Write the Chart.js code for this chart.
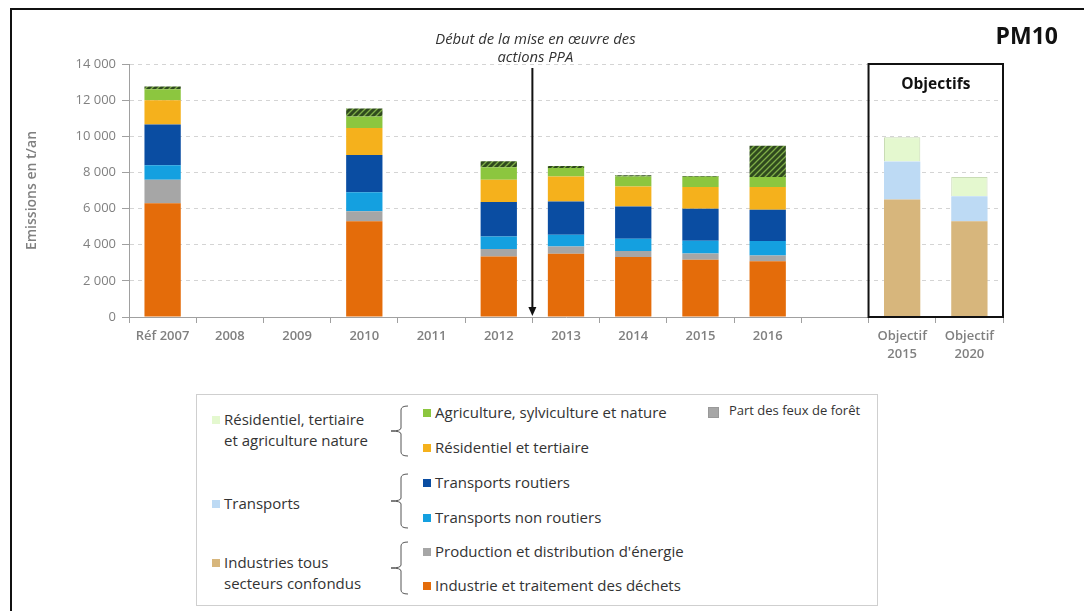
<!DOCTYPE html>
<html>
<head>
<meta charset="utf-8">
<script src="https://cdn.jsdelivr.net/npm/chart.js@4.4.0/dist/chart.umd.min.js"></script>
<style>
  body { margin: 0; background: #fff; font-family: "Open Sans", sans-serif; }
  #page { position: relative; width: 1084px; height: 611px; overflow: hidden; }
  #frame { position: absolute; left: 10px; top: 8px; width: 1100px; height: 700px;
           border-left: 2px solid #111; border-top: 2px solid #111; }
  #wrap { position: absolute; left: 0; top: 0; width: 1084px; height: 380px; }
  #legend { position: absolute; left: 196px; top: 394px; width: 680px; height: 210px;
            border: 1px solid #cfcfcf; font-size: 15px; color: #333; }
  .it { position: absolute; white-space: nowrap; line-height: 21px; }
  .sq { position: absolute; width: 8px; height: 8px; }
  .br { position: absolute; }
</style>
</head>
<body>
<div id="page">
  <div id="frame"></div>
  <div id="wrap"><canvas id="chart" width="1084" height="380"></canvas></div>
  <div id="legend"></div>
</div>
<script>
// categories and values (t/an)
var years = ['Réf 2007', '2008', '2009', '2010', '2011', '2012', '2013', '2014', '2015', '2016', '',
             ['Objectif', '2015'], ['Objectif', '2020']];

var industrie    = [6300, null, null, 5300, null, 3350, 3500, 3320, 3170, 3080, null, null, null];
var energie      = [1300, null, null, 550,  null, 410,  400,  330,  350,  330,  null, null, null];
var nonRoutiers  = [800,  null, null, 1050, null, 700,  650,  680,  700,  800,  null, null, null];
var routiers     = [2250, null, null, 2070, null, 1900, 1840, 1790, 1770, 1730, null, null, null];
var residentiel  = [1350, null, null, 1490, null, 1230, 1380, 1100, 1200, 1260, null, null, null];
var agriculture  = [600,  null, null, 640,  null, 700,  480,  550,  570,  550,  null, null, null];
var feux         = [150,  null, null, 440,  null, 330,  100,  80,   40,   1730, null, null, null];

var objIndustries  = [null, null, null, null, null, null, null, null, null, null, null, 6500, 5300];
var objTransports  = [null, null, null, null, null, null, null, null, null, null, null, 2100, 1380];
var objResidentiel = [null, null, null, null, null, null, null, null, null, null, null, 1350, 1070];

var yTicks = [0, 2000, 4000, 6000, 8000, 10000, 12000, 14000];

// hatch for forest fires
function hatch() {
    var c = document.createElement('canvas');
    c.width = 6; c.height = 6;
    var g = c.getContext('2d');
    g.fillStyle = '#2f4a1e';
    g.fillRect(0, 0, 6, 6);
    g.strokeStyle = '#7fae48';
    g.lineWidth = 1.3;
    g.beginPath();
    g.moveTo(0, 6); g.lineTo(6, 0);
    g.moveTo(-3, 3); g.lineTo(3, -3);
    g.moveTo(3, 9); g.lineTo(9, 3);
    g.stroke();
    return document.getElementById('chart').getContext('2d').createPattern(c, 'repeat');
}

var colors = {
    industrie: '#e46c0a', energie: '#a6a6a6', nonRoutiers: '#14a0e0', routiers: '#0a4da2',
    residentiel: '#f5b11c', agriculture: '#8cc63f', tan: '#d7b67c', paleBlue: '#bddaf4',
    paleGreen: '#e4f8cf', feuxLegend: '#a6a6a6'
};

function ds(label, data, color, border) {
    return { label: label, data: data, backgroundColor: color, stack: 's',
             borderColor: border || color, borderWidth: border ? 1 : 0,
             barPercentage: 0.54, categoryPercentage: 1 };
}

var datasets = [
    ds('Industrie et traitement des déchets', industrie, colors.industrie),
    ds("Production et distribution d'énergie", energie, colors.energie),
    ds('Transports non routiers', nonRoutiers, colors.nonRoutiers),
    ds('Transports routiers', routiers, colors.routiers),
    ds('Résidentiel et tertiaire', residentiel, colors.residentiel),
    ds('Agriculture, sylviculture et nature', agriculture, colors.agriculture),
    ds('Part des feux de forêt', feux, hatch()),
    ds('Industries tous secteurs confondus', objIndustries, colors.tan),
    ds('Transports', objTransports, colors.paleBlue),
    ds('Résidentiel, tertiaire et agriculture nature', objResidentiel, colors.paleGreen, '#c9dcb5')
];

var extras = {
    id: 'extras',
    afterDraw: function (chart) {
        var ctx = chart.ctx, x = chart.scales.x, y = chart.scales.y, area = chart.chartArea;
        ctx.save();
        // Objectifs box
        var bx = (x.getPixelForValue(10) + x.getPixelForValue(11)) / 2;
        var top = y.getPixelForValue(14000);
        ctx.strokeStyle = '#111';
        ctx.lineWidth = 2;
        ctx.strokeRect(bx, top, area.right - bx, area.bottom - top);
        ctx.fillStyle = '#111';
        ctx.font = 'bold 15.5px "Open Sans"';
        ctx.textAlign = 'center';
        ctx.textBaseline = 'middle';
        ctx.fillText('Objectifs', (bx + area.right) / 2, top + 21);

        // arrow
        var ax = (x.getPixelForValue(5) + x.getPixelForValue(6)) / 2;
        ctx.lineWidth = 2;
        ctx.beginPath();
        ctx.moveTo(ax, 68);
        ctx.lineTo(ax, area.bottom - 6);
        ctx.stroke();
        ctx.beginPath();
        ctx.moveTo(ax - 4, area.bottom - 10);
        ctx.lineTo(ax, area.bottom - 1);
        ctx.lineTo(ax + 4, area.bottom - 10);
        ctx.closePath();
        ctx.fill();

        ctx.fillStyle = '#333';
        ctx.font = 'italic 14.8px "Open Sans"';
        ctx.fillText('Début de la mise en œuvre des', ax + 3, 40);
        ctx.fillText('actions PPA', ax + 3, 58);

        ctx.fillStyle = '#111';
        ctx.font = 'bold 23px "Open Sans"';
        ctx.textAlign = 'right';
        ctx.fillText('PM10', 1058, 37);
        ctx.restore();
    }
};

new Chart(document.getElementById('chart').getContext('2d'), {
    type: 'bar',
    data: { labels: years, datasets: datasets },
    options: {
        responsive: false,
        animation: false,
        layout: { padding: { left: 20, right: 81, top: 64, bottom: 0 } },
        plugins: { legend: { display: false }, tooltip: { enabled: false } },
        scales: {
            x: {
                stacked: true,
                grid: { display: true, drawOnChartArea: false, offset: true, tickLength: 6, tickColor: '#a0a0a0' },
                border: { color: '#a0a0a0', width: 1 },
                ticks: { color: '#808080', padding: 5, maxRotation: 0, autoSkip: false,
                         font: { family: 'Open Sans', size: 13, weight: '600', lineHeight: 1.35 } },
                afterFit: function (s) { s.height = 63; }
            },
            y: {
                stacked: true,
                min: 0, max: 14000,
                afterBuildTicks: function (s) { s.ticks = yTicks.map(function (v) { return { value: v }; }); },
                grid: { color: '#d4d4d4', tickLength: 7, tickColor: '#a0a0a0' },
                border: { color: '#a0a0a0', width: 1, dash: [4, 4] },
                ticks: { color: '#808080', padding: 6,
                         font: { family: 'Open Sans', size: 13 },
                         callback: function (v) { return String(v).replace(/\B(?=(\d{3})+(?!\d))/g, ' '); } },
                title: { display: true, text: 'Emissions en t/an', color: '#808080',
                         font: { family: 'Open Sans', size: 14, weight: '600' } },
                afterFit: function (s) { s.width = 109; }
            }
        }
    },
    plugins: [extras]
});

// legend with grouping braces
var legendItems = [
    { t: ['Résidentiel, tertiaire', 'et agriculture nature'], c: colors.paleGreen, x: 15, y: 25 },
    { t: ['Agriculture, sylviculture et nature'], c: colors.agriculture, x: 226, y: 18 },
    { t: ['Résidentiel et tertiaire'], c: colors.residentiel, x: 226, y: 53 },
    { t: ['Part des feux de forêt'], c: colors.feuxLegend, x: 511, y: 16, big: true },
    { t: ['Transports'], c: colors.paleBlue, x: 15, y: 109 },
    { t: ['Transports routiers'], c: colors.routiers, x: 226, y: 88 },
    { t: ['Transports non routiers'], c: colors.nonRoutiers, x: 226, y: 123 },
    { t: ['Industries tous', 'secteurs confondus'], c: colors.tan, x: 15, y: 168 },
    { t: ["Production et distribution d'énergie"], c: colors.energie, x: 226, y: 157 },
    { t: ['Industrie et traitement des déchets'], c: colors.industrie, x: 226, y: 191 }
];
var braces = [[10, 62], [78, 134], [146, 200]];

var leg = document.getElementById('legend');
legendItems.forEach(function (it) {
    var two = it.t.length > 1;
    var sq = document.createElement('div');
    sq.className = 'sq';
    var s = it.big ? 9 : 8;
    sq.style.width = s + 'px'; sq.style.height = s + 'px';
    sq.style.left = it.x + 'px';
    sq.style.top = (it.y - s / 2) + 'px';
    sq.style.background = it.c;
    if (it.big) sq.style.border = '1px solid #999';
    leg.appendChild(sq);
    var tx = document.createElement('div');
    tx.className = 'it';
    tx.style.left = (it.x + (it.big ? 21 : 12)) + 'px';
    tx.style.top = (it.y - 11) + 'px';
    if (it.big) { tx.style.fontSize = '13px'; }
    tx.innerHTML = it.t.join('<br>');
    leg.appendChild(tx);
});
braces.forEach(function (b) {
    var h = b[1] - b[0], m = h / 2;
    var svg = document.createElementNS('http://www.w3.org/2000/svg', 'svg');
    svg.setAttribute('class', 'br');
    svg.setAttribute('width', 20);
    svg.setAttribute('height', h);
    svg.style.left = '193px';
    svg.style.top = b[0] + 'px';
    var p = document.createElementNS('http://www.w3.org/2000/svg', 'path');
    p.setAttribute('d', 'M18 1 Q11 1 11 5 L11 ' + (m - 3) + ' Q11 ' + m + ' 1 ' + m +
                        ' Q11 ' + m + ' 11 ' + (m + 3) + ' L11 ' + (h - 5) + ' Q11 ' + (h - 1) + ' 18 ' + (h - 1));
    p.setAttribute('fill', 'none');
    p.setAttribute('stroke', '#555');
    p.setAttribute('stroke-width', '1');
    svg.appendChild(p);
    leg.appendChild(svg);
});
</script>
</body>
</html>
